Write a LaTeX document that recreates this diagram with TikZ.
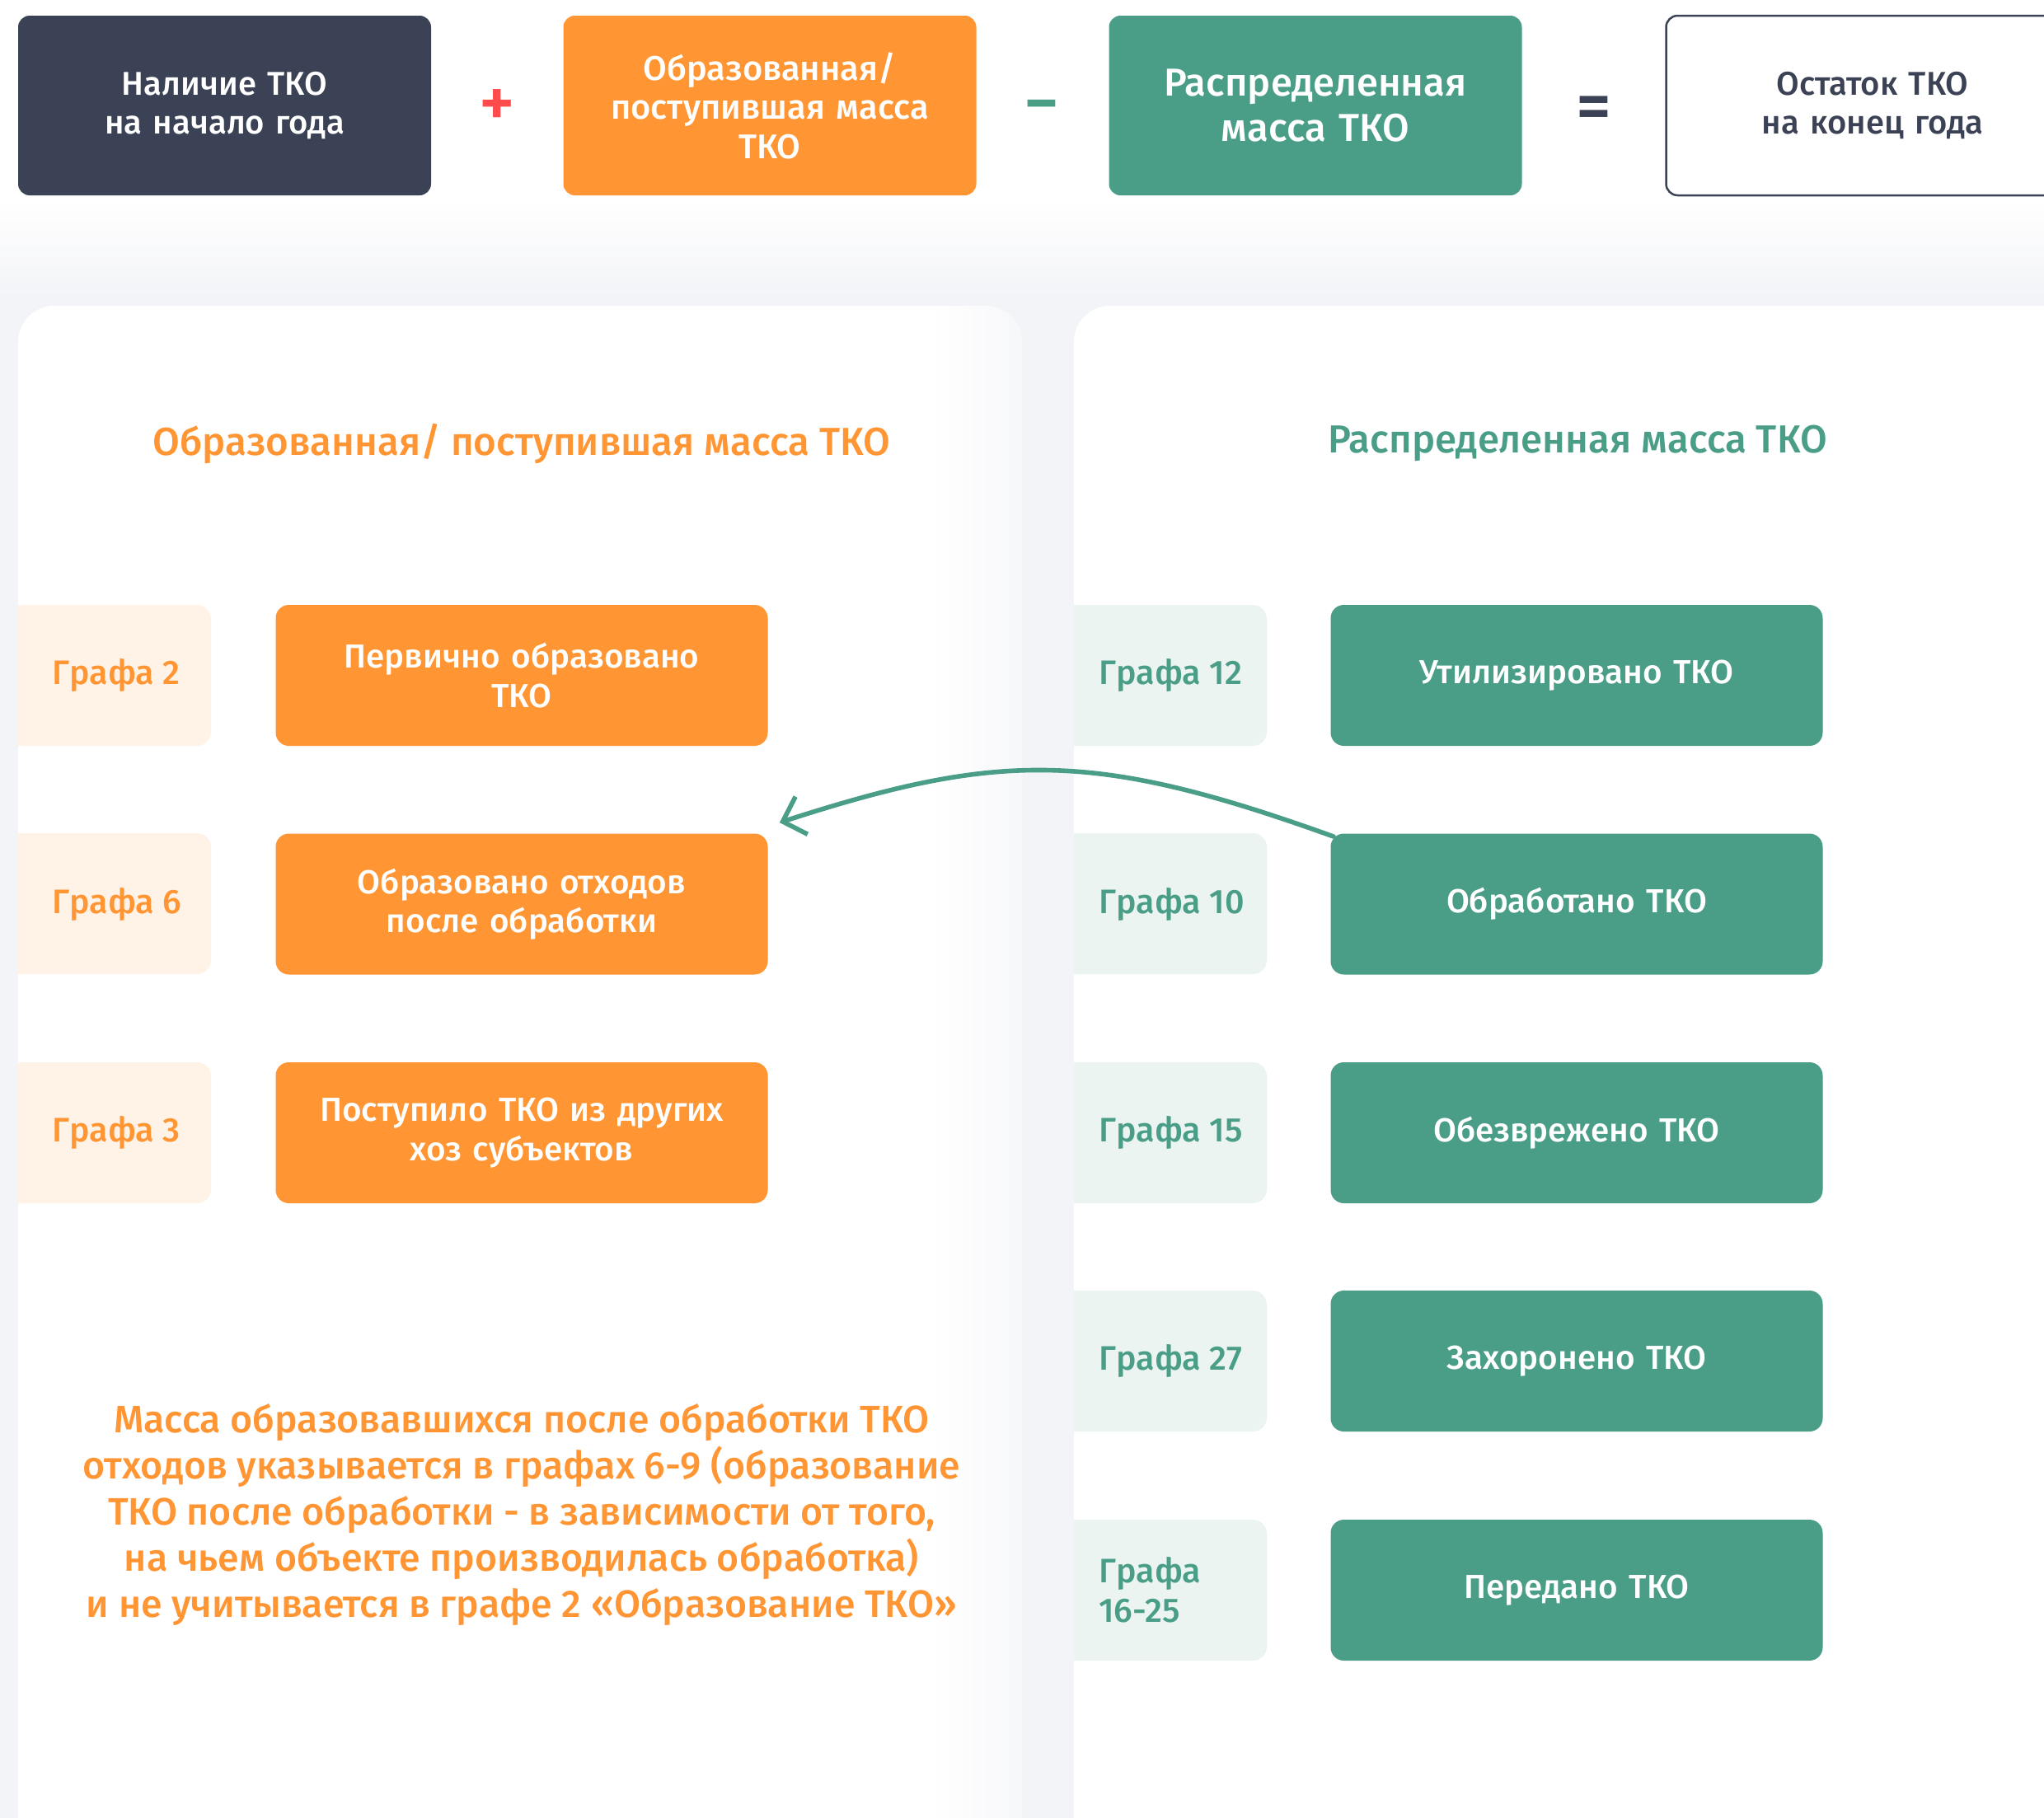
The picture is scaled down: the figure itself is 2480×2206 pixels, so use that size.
\documentclass[tikz,border=0pt]{standalone}
\usepackage{fontspec}
\setmainfont{Fira Sans}[UprightFont=* Medium, BoldFont=* SemiBold]
\usetikzlibrary{arrows.meta}
\definecolor{navy}{HTML}{3C4255}
\definecolor{orng}{HTML}{FF9533}
\definecolor{grn}{HTML}{4A9E87}
\definecolor{lor}{HTML}{FFF3E8}
\definecolor{lgr}{HTML}{EBF4F1}
\definecolor{bgg}{HTML}{F3F4F7}
\definecolor{plusred}{HTML}{FF4B4B}
\tikzset{
  topbox/.style={rounded corners=7pt, minimum width=250.5pt, minimum height=109pt,
    text width=240pt, align=center, inner sep=0pt, text=white,
    font=\fontsize{20}{23.75}\selectfont},
  opsign/.style={inner sep=0pt, font=\fontsize{42}{42}\selectfont},
  mainbox/.style={rounded corners=8pt, minimum width=298.5pt, minimum height=85.5pt,
    text width=290pt, align=center, inner sep=0pt, text=white,
    font=\fontsize{20.2}{23.75}\selectfont},
  lbltext/.style={anchor=west, inner sep=0pt, align=left,
    font=\fontsize{20.6}{24}\selectfont},
  title/.style={inner sep=0pt, font=\fontsize{23.7}{28}\selectfont},
}
\begin{document}
\begin{tikzpicture}[x=0.5pt,y=-0.5pt]
\useasboundingbox (0,0) rectangle (2480,2206);
\clip (0,0) rectangle (2480,2206);
% background
\fill[white] (0,0) rectangle (2480,2206);
\fill[bgg] (0,360) rectangle (2480,2206);
\shade[top color=white, bottom color=bgg] (0,240) rectangle (2480,361);
% panels
\fill[white, rounded corners=22pt] (22,371) rectangle (1240,2250);
\fill[white, rounded corners=22pt] (1303,371) rectangle (2600,2250);
\begin{scope}
  \clip[rounded corners=22pt] (22,371) rectangle (1240,2250);
  \shade[left color=white, right color=bgg!70] (1130,371) rectangle (1241,2250);
\end{scope}

% top row
\node[topbox, fill=navy] (b1) at (272.5,128) {Наличие ТКО\\на начало года};
\node[opsign, text=plusred] (plus) at (603,131) {+};
\node[topbox, fill=orng, font=\fontsize{20.8}{23.75}\selectfont] (b2) at (934,128) {Образованная/\\поступившая масса\\ТКО};
\node[opsign, text=grn] (minus) at (1264,137) {−};
\node[topbox, fill=grn, font=\fontsize{23.6}{27.5}\selectfont] (b3) at (1596,128) {Распределенная\\масса ТКО};
\node[opsign, text=navy] (eq) at (1934,137) {=};
\node[topbox, draw=navy, line width=1.25pt, fill=white, text=navy] (b4) at (2272,128) {Остаток ТКО\\на конец года};

% titles
\node[title, text=orng] (tl) at (633,538) {Образованная/ поступившая масса ТКО};
\node[title, text=grn] (tr) at (1914,538) {Распределенная масса ТКО};

% left label backgrounds
\foreach \t in {734,1011,1289}{
  \fill[lor] (22,\t) [rounded corners=8.5pt] -- (256,\t) -- (256,\t+171) [sharp corners] -- (22,\t+171) -- cycle;
}
\foreach \t in {734,1011,1289,1566,1844}{
  \fill[lgr] (1303,\t) [rounded corners=8.5pt] -- (1537,\t) -- (1537,\t+171) [sharp corners] -- (1303,\t+171) -- cycle;
}
% left labels
\node[lbltext, text=orng] (l2) at (63,819.5) {Графа 2};
\node[lbltext, text=orng] (l6) at (63,1097) {Графа 6};
\node[lbltext, text=orng] (l3) at (63,1374.5) {Графа 3};
% left boxes
\node[mainbox, fill=orng] (o2) at (633,819.5) {Первично образовано\\ТКО};
\node[mainbox, fill=orng] (o6) at (633,1097) {Образовано отходов\\после обработки};
\node[mainbox, fill=orng] (o3) at (633,1374.5) {Поступило ТКО из других\\хоз субъектов};
% right labels
\node[lbltext, text=grn] (r12) at (1333,819.5) {Графа 12};
\node[lbltext, text=grn] (r10) at (1333,1097) {Графа 10};
\node[lbltext, text=grn] (r15) at (1333,1374.5) {Графа 15};
\node[lbltext, text=grn] (r27) at (1333,1651.5) {Графа 27};
\node[lbltext, text=grn] (r16) at (1333,1929.5) {Графа\\16-25};
% right boxes
\node[mainbox, fill=grn] (g12) at (1913,819.5) {Утилизировано ТКО};
\node[mainbox, fill=grn] (g10) at (1913,1097) {Обработано ТКО};
\node[mainbox, fill=grn] (g15) at (1913,1374.5) {Обезврежено ТКО};
\node[mainbox, fill=grn] (g27) at (1913,1651.5) {Захоронено ТКО};
\node[mainbox, fill=grn] (g16) at (1913,1929.5) {Передано ТКО};

% note
\node[inner sep=0pt, align=center, text=orng, font=\fontsize{23.2}{27.9}\selectfont] (note) at (633,1838)
 {Масса образовавшихся после обработки ТКО\\отходов указывается в графах 6-9 (образование\\ТКО после обработки - в зависимости от того,\\на чьем объекте производилась обработка)\\и не учитывается в графе 2 «Образование ТКО»};

% arrow
\draw[grn, line width=2.8pt, line cap=round, -{Straight Barb[length=12pt, width=24pt, line width=2.8pt]}]
  ([shift={(4,4)}]g10.north west) .. controls (1329,911) and (1215,911) .. ([shift={(14,-13)}]o6.north east);
\end{tikzpicture}
\end{document}
